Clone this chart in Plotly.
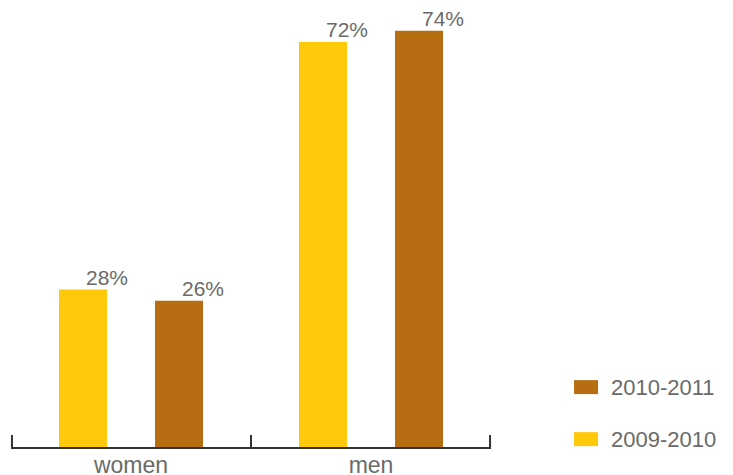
import plotly.graph_objects as go

# Share of respondents by gender, two academic years
categories = ["women", "men"]
series_names = ["2009-2010", "2010-2011"]
values_2009 = [28, 72]
values_2010 = [26, 74]
series_values = [values_2009, values_2010]
colors = ["#FEC90A", "#B76E12"]

BAR_WIDTH = 0.2
OFFSETS = [-0.3, 0.1]
FONT = "Liberation Sans"
TEXT_COLOR = "#6a6a6a"
AXIS_COLOR = "#333333"

fig = go.Figure()
annotations = []
for name, vals, col, off in zip(series_names, series_values, colors, OFFSETS):
    fig.add_trace(go.Bar(
        x=categories, y=vals, name=name, marker_color=col,
        marker_line_width=0, width=BAR_WIDTH, offset=off,
        showlegend=False,
    ))
    for i, v in enumerate(vals):
        annotations.append(dict(
            x=i + off + BAR_WIDTH / 2, y=v, xref="x", yref="y",
            text=f"{v}%", showarrow=False, xanchor="left", yanchor="bottom",
            xshift=1, yshift=-1,
            font=dict(family=FONT, size=21, color=TEXT_COLOR),
        ))

# Legend drawn as swatches + labels on the right, newest year on top
shapes = []
legend_rows = list(zip(series_names, colors))[::-1]
for k, (name, col) in enumerate(legend_rows):
    y0 = 0.121 - k * 0.119
    shapes.append(dict(type="rect", xref="paper", yref="paper",
                       x0=1.173, x1=1.223, y0=y0, y1=y0 + 0.032,
                       fillcolor=col, line_width=0))
    annotations.append(dict(x=1.245, y=y0 + 0.016, xref="paper", yref="paper",
                            text=name, showarrow=False, xanchor="left",
                            yanchor="middle",
                            font=dict(family=FONT, size=22, color=TEXT_COLOR)))

# Boundary ticks at both ends of the category axis
for xd in (0.002, 0.998):
    shapes.append(dict(type="line", xref="x domain", yref="y domain",
                       x0=xd, x1=xd, ysizemode="pixel", yanchor=0,
                       y0=0, y1=12, line=dict(color=AXIS_COLOR, width=2)))

fig.update_layout(
    width=733, height=475,
    margin=dict(l=11, r=242, t=10, b=28),
    paper_bgcolor="white", plot_bgcolor="white",
    barmode="overlay",
    annotations=annotations, shapes=shapes,
    xaxis=dict(
        type="category", range=[-0.5, 1.5], automargin=False,
        showline=True, linecolor=AXIS_COLOR, linewidth=2,
        ticks="inside", tickson="boundaries", ticklen=12, tickwidth=2,
        tickcolor=AXIS_COLOR, showgrid=False, zeroline=False,
        ticklabelstandoff=-4,
        tickfont=dict(family=FONT, size=23, color=TEXT_COLOR),
    ),
    yaxis=dict(range=[0, 77.7], visible=False, showgrid=False, zeroline=False,
               automargin=False),
)

fig.write_html("out.html")
